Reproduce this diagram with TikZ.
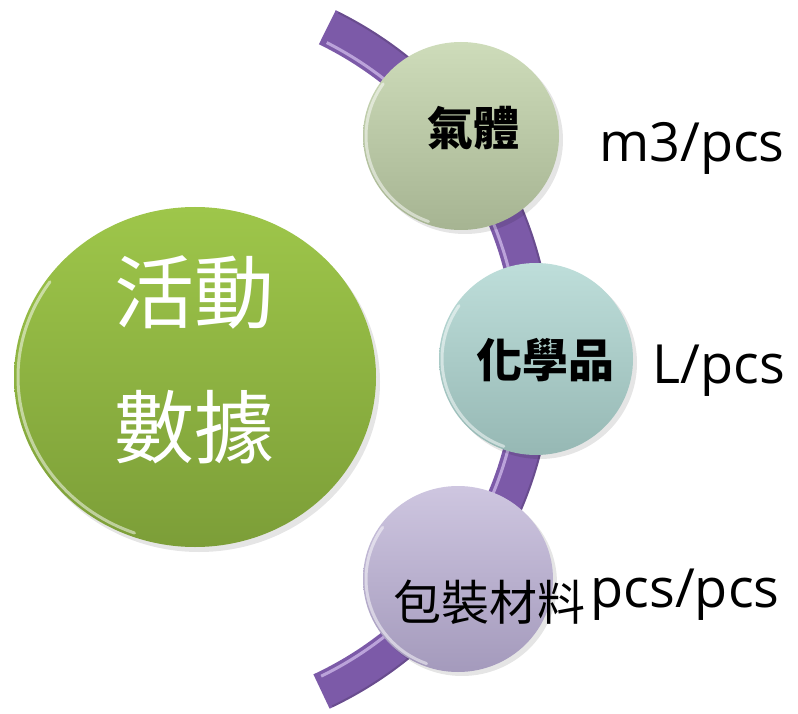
\documentclass[tikz,border=0pt]{standalone}
\usepackage{fontspec}
\setmainfont{Open Sans}
\newfontfamily\cjk{Noto Sans CJK TC}
\usetikzlibrary{shapes.geometric}
\definecolor{bandpurple}{RGB}{124,90,168}
\definecolor{bandlight}{RGB}{215,195,240}
\definecolor{greentop}{RGB}{158,198,74}
\definecolor{greenbot}{RGB}{124,158,56}
\definecolor{gastop}{RGB}{206,220,186}
\definecolor{gasbot}{RGB}{166,180,146}
\definecolor{chemtop}{RGB}{190,222,218}
\definecolor{chembot}{RGB}{150,184,180}
\definecolor{packtop}{RGB}{206,198,224}
\definecolor{packbot}{RGB}{164,154,188}
\tikzset{
  disc/.style={ellipse, draw=none, inner sep=0pt, outer sep=0pt},
  cjklabel/.style={inner sep=0pt, font=\cjk\bfseries\fontsize{46}{46}\selectfont, text=black},
  unitlabel/.style={inner sep=0pt, anchor=base, font=\fontsize{54}{54}\selectfont, text=black},
  bigtext/.style={inner sep=0pt, font=\cjk\fontsize{80}{80}\selectfont, text=white},
  rim/.style={white, opacity=0.5, line width=3pt, line cap=round},
  shade/.style={black, opacity=0.10}
}
\begin{document}
\begin{tikzpicture}[x=1pt,y=-1pt]
\useasboundingbox (0,0) rectangle (798,714);
% purple band
\coordinate (arcC) at (166,358);
\draw[bandpurple, line width=38pt] (arcC) ++(-64:368) arc[start angle=-64, end angle=65, radius=368];
\draw[bandlight, opacity=0.7, line width=3pt] (arcC) ++(-63:354) arc[start angle=-63, end angle=64, radius=354];
\draw[black, opacity=0.15, line width=2pt] (arcC) ++(-63.5:386) arc[start angle=-63.5, end angle=64.5, radius=386];
% shadows
\fill[shade] (199,382) ellipse[x radius=181, y radius=170];
\fill[shade] (465,140) ellipse[x radius=98, y radius=94];
\fill[shade] (540,363) ellipse[x radius=97, y radius=96];
\fill[shade] (462,583) ellipse[x radius=95, y radius=93];
% discs
\node[disc, minimum width=362pt, minimum height=340pt, top color=greentop, bottom color=greenbot] (G) at (195,377) {};
\node[disc, minimum width=196pt, minimum height=188pt, top color=gastop, bottom color=gasbot] (A) at (461,136) {};
\node[disc, minimum width=194pt, minimum height=192pt, top color=chemtop, bottom color=chembot] (B) at (536,359) {};
\node[disc, minimum width=190pt, minimum height=186pt, top color=packtop, bottom color=packbot] (C) at (458,579) {};
% rim highlights
\draw[rim] (195,377) ++(110:177 and 166) arc[start angle=110, end angle=215, x radius=177, y radius=166];
\draw[rim] (461,136) ++(110:95 and 91) arc[start angle=110, end angle=215, x radius=95, y radius=91];
\draw[rim] (536,359) ++(110:94 and 93) arc[start angle=110, end angle=215, x radius=94, y radius=93];
\draw[rim] (458,579) ++(110:92 and 90) arc[start angle=110, end angle=215, x radius=92, y radius=90];
% texts
\node[bigtext] (g1) at (194,292) {活動};
\node[bigtext] (g2) at (194,427) {數據};
\node[cjklabel] (a1) at (473,128) {氣體};
\node[cjklabel] (b1) at (545,360) {化學品};
\node[cjklabel, font=\cjk\fontsize{48}{48}\selectfont] (c1) at (489,602) {包裝材料};
\node[unitlabel] (a2) at (692,162) {m3/pcs};
\node[unitlabel] (b2) at (719,383) {L/pcs};
\node[unitlabel] (c2) at (685,607) {pcs/pcs};
\end{tikzpicture}
\end{document}
